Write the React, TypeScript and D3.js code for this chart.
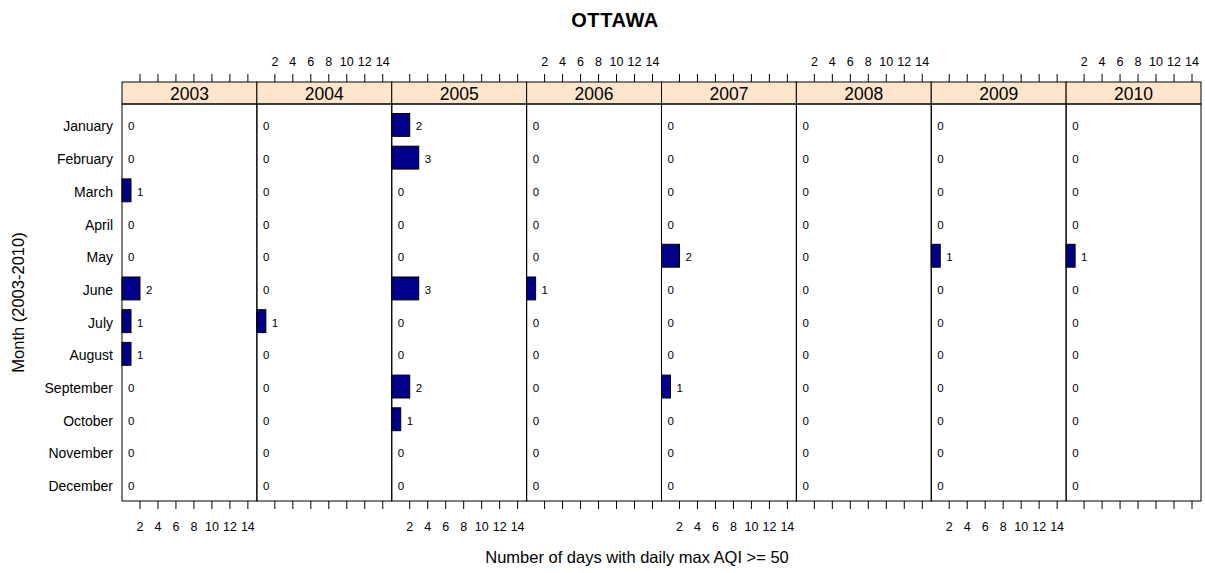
import React from "react";
import * as d3 from "d3";

const years = ["2003", "2004", "2005", "2006", "2007", "2008", "2009", "2010"];
const months = ["January", "February", "March", "April", "May", "June", "July", "August", "September", "October", "November", "December"];
// days per month with daily max AQI >= 50, one array per year (Jan..Dec)
const days2003 = [0, 0, 1, 0, 0, 2, 1, 1, 0, 0, 0, 0];
const days2004 = [0, 0, 0, 0, 0, 0, 1, 0, 0, 0, 0, 0];
const days2005 = [2, 3, 0, 0, 0, 3, 0, 0, 2, 1, 0, 0];
const days2006 = [0, 0, 0, 0, 0, 1, 0, 0, 0, 0, 0, 0];
const days2007 = [0, 0, 0, 0, 2, 0, 0, 0, 1, 0, 0, 0];
const days2008 = [0, 0, 0, 0, 0, 0, 0, 0, 0, 0, 0, 0];
const days2009 = [0, 0, 0, 0, 1, 0, 0, 0, 0, 0, 0, 0];
const days2010 = [0, 0, 0, 0, 1, 0, 0, 0, 0, 0, 0, 0];
const xTicks = [2, 4, 6, 8, 10, 12, 14];

const series = [days2003, days2004, days2005, days2006, days2007, days2008, days2009, days2010];

const W = 1205, H = 573;
const left = 122, right = 1201;
const stripTop = 82, top = 104, bottom = 501;
const font = "'Liberation Sans', Arial, Helvetica, sans-serif";

export default function App() {
  const panel = d3.scaleBand<string>().domain(years).range([left, right]);
  const pw = panel.bandwidth();
  const x = d3.scaleLinear().domain([0, 15]).range([0, pw]);
  const y = d3.scaleLinear().domain([0.36, 12.5]).range([top, bottom]);
  const barH = (y(1) - y(0)) * 0.7;

  return (
    <svg width={W} height={H} style={{ position: "absolute", left: 0, top: 0, fontFamily: font }}>
      <rect width={W} height={H} fill="white" />
      <text x={615} y={20} textAnchor="middle" dominantBaseline="central" fontWeight="bold" fontSize={20} letterSpacing={0.6}>OTTAWA</text>

      {/* month labels */}
      {months.map((m, i) => (
        <text key={m} x={113} y={y(i + 1) + 1.5} textAnchor="end" dominantBaseline="central" fontSize={14}>{m}</text>
      ))}

      {years.map((yr, p) => {
        const px = panel(yr)!;
        const vals = series[p];
        const labelTop = p % 2 === 1;
        return (
          <g key={yr}>
            {/* strip */}
            <rect x={px} y={stripTop} width={pw} height={top - stripTop} fill="#ffe5cc" stroke="black" strokeWidth={1} />
            <text x={px + pw / 2} y={(stripTop + top) / 2 + 1} textAnchor="middle" dominantBaseline="central" fontSize={17.5}>{yr}</text>
            {/* bars */}
            {vals.map((v, i) => (
              <g key={i}>
                <rect x={px + x(0)} y={y(i + 1) - barH / 2} width={x(v) - x(0)} height={barH} fill="#00008b" stroke="black" strokeWidth={1} />
                <text x={px + x(v) + 6} y={y(i + 1) + 1.5} dominantBaseline="central" fontSize={11.5}>{v}</text>
              </g>
            ))}
            <rect x={px} y={top} width={pw} height={bottom - top} fill="none" stroke="black" strokeWidth={1} />
            {/* ticks top and bottom */}
            {xTicks.map(t => (
              <g key={t}>
                <line x1={px + x(t)} x2={px + x(t)} y1={stripTop} y2={stripTop - 8} stroke="black" />
                <line x1={px + x(t)} x2={px + x(t)} y1={bottom} y2={bottom + 8} stroke="black" />
                {labelTop ? (
                  <text x={px + x(t)} y={62} textAnchor="middle" dominantBaseline="central" fontSize={12.5}>{t}</text>
                ) : (
                  <text x={px + x(t)} y={527} textAnchor="middle" dominantBaseline="central" fontSize={12.5}>{t}</text>
                )}
              </g>
            ))}
          </g>
        );
      })}

      <text x={637} y={557} textAnchor="middle" dominantBaseline="central" fontSize={16.5}>Number of days with daily max AQI &gt;= 50</text>
      <text transform={`translate(18,${(top + bottom) / 2}) rotate(-90)`} textAnchor="middle" dominantBaseline="central" fontSize={16.5}>Month (2003-2010)</text>
    </svg>
  );
}
